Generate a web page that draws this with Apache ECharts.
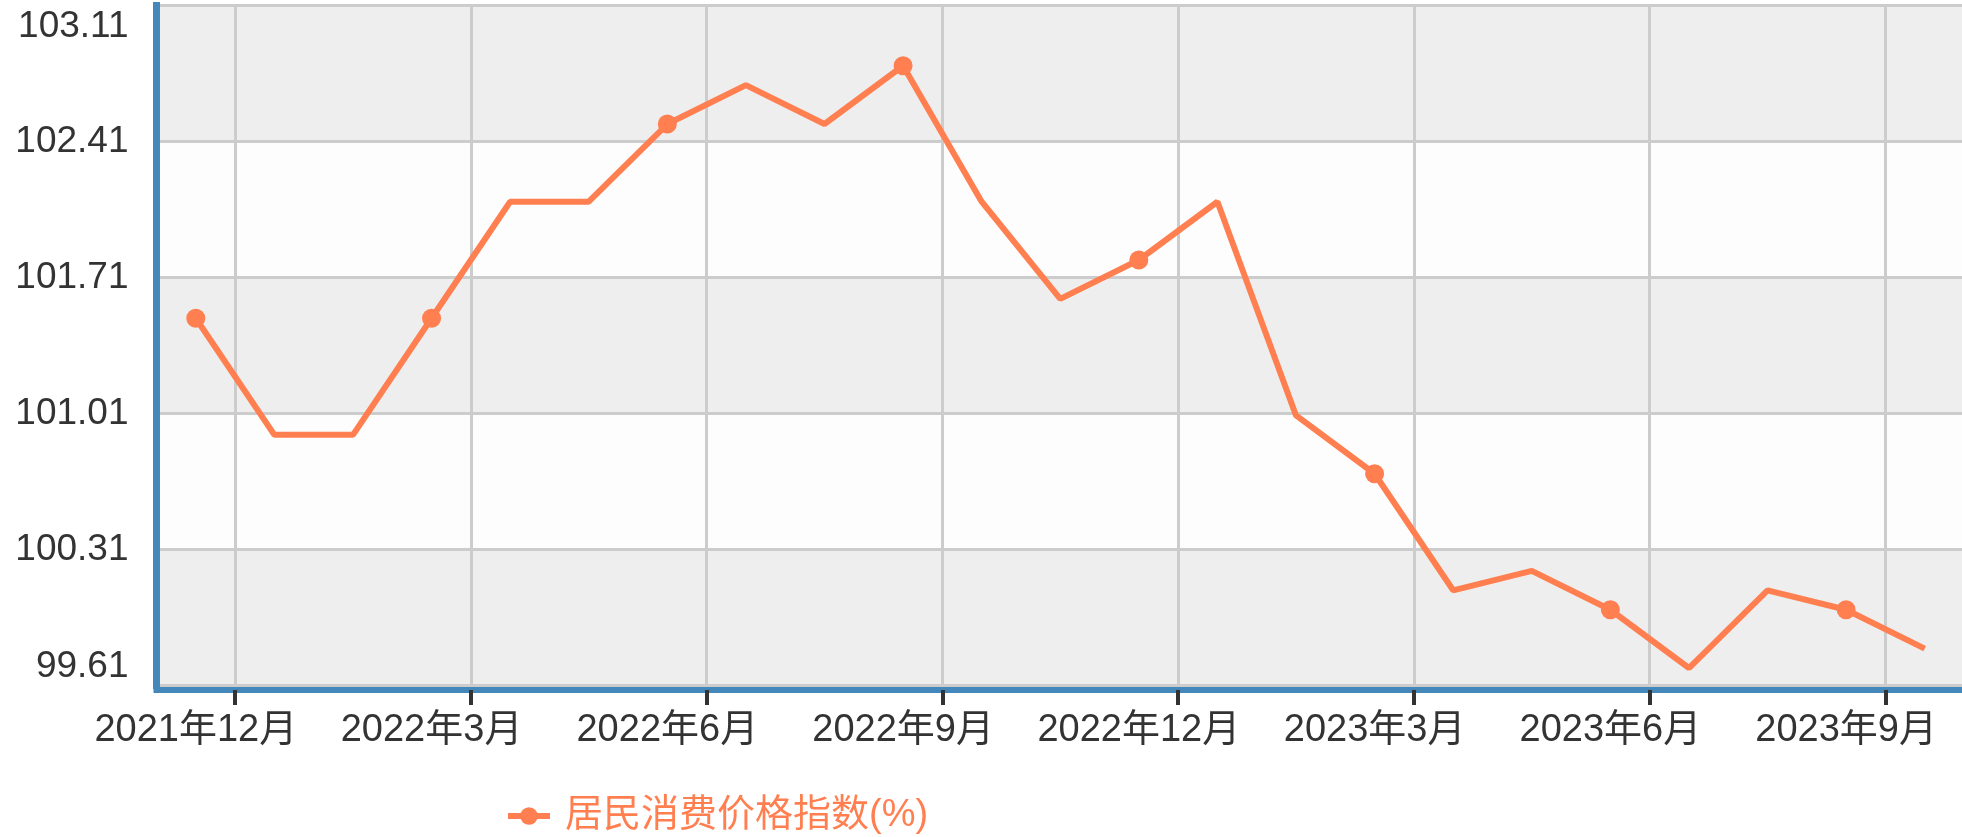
<!DOCTYPE html>
<html>
<head>
<meta charset="utf-8">
<style>
  html, body { margin: 0; padding: 0; background: #ffffff; }
  #chart { width: 1962px; height: 837px; }
</style>
<script src="https://cdn.jsdelivr.net/npm/echarts@6/dist/echarts.min.js"></script>
</head>
<body>
<div id="chart"></div>
<script>
// ---- data ----
var categories = [
  '2021年12月', '2022年1月', '2022年2月', '2022年3月', '2022年4月', '2022年5月',
  '2022年6月', '2022年7月', '2022年8月', '2022年9月', '2022年10月', '2022年11月',
  '2022年12月', '2023年1月', '2023年2月', '2023年3月', '2023年4月', '2023年5月',
  '2023年6月', '2023年7月', '2023年8月', '2023年9月', '2023年10月'
];
var seriesName = '居民消费价格指数(%)';
var cpiValues = [
  101.5, 100.9, 100.9, 101.5, 102.1, 102.1,
  102.5, 102.7, 102.5, 102.8, 102.1, 101.6,
  101.8, 102.1, 101.0, 100.7, 100.1, 100.2,
  100.0, 99.7, 100.1, 100.0, 99.8
];
var yMin = 99.61;
var yMax = 103.11;
var yStep = 0.7;

// ---- chart ----
var FONT = '"Liberation Sans", Arial, "Noto Sans CJK SC", sans-serif';
var chart = echarts.init(document.getElementById('chart'), null, { renderer: 'canvas' });
chart.setOption({
  animation: false,
  color: ['#ff7f50'],
  textStyle: { fontFamily: FONT },
  grid: {
    left: 156.5,
    right: -2,
    top: 5.5,
    bottom: 151.5,
    containLabel: false,
    outerBoundsMode: 'none'
  },
  legend: {
    left: 500,
    top: 792,
    itemWidth: 42,
    itemHeight: 22,
    lineStyle: { width: 6 },
    textStyle: {
      color: '#ff7f50',
      fontSize: 38,
      fontFamily: FONT,
      padding: [0, 0, 0, 10]
    },
    data: [seriesName]
  },
  xAxis: {
    type: 'category',
    data: categories,
    boundaryGap: true,
    offset: 4.5,
    axisLine: { show: true, lineStyle: { color: '#4488bb', width: 6, cap: 'square' } },
    axisTick: {
      show: true,
      length: 15,
      interval: function (idx) { return idx % 3 === 1; },
      lineStyle: { color: '#333333', width: 4 }
    },
    axisLabel: {
      interval: 2,
      margin: 22,
      color: '#333333',
      fontSize: 38,
      fontFamily: FONT
    },
    splitLine: {
      show: true,
      interval: function (idx) { return idx % 3 === 1; },
      lineStyle: { color: '#cccccc', width: 3 }
    }
  },
  yAxis: {
    type: 'value',
    min: yMin,
    max: yMax,
    interval: yStep,
    axisLine: { show: true, lineStyle: { color: '#4488bb', width: 7, cap: 'square' } },
    axisTick: { show: false },
    axisLabel: {
      margin: 28,
      color: '#333333',
      fontSize: 37,
      fontFamily: FONT,
      verticalAlignMaxLabel: 'top',
      verticalAlignMinLabel: 'bottom',
      padding: [3, 0, 0, 0],
      formatter: function (v) { return v.toFixed(2); }
    },
    splitLine: { show: true, lineStyle: { color: '#cccccc', width: 3 } },
    splitArea: { show: true, areaStyle: { color: ['#eeeeee', '#fdfdfd'] } }
  },
  series: [{
    name: seriesName,
    type: 'line',
    data: cpiValues,
    symbol: 'circle',
    symbolSize: 19,
    showAllSymbol: false,
    lineStyle: { width: 6, color: '#ff7f50' },
    itemStyle: { color: '#ff7f50' }
  }]
});
</script>
</body>
</html>
